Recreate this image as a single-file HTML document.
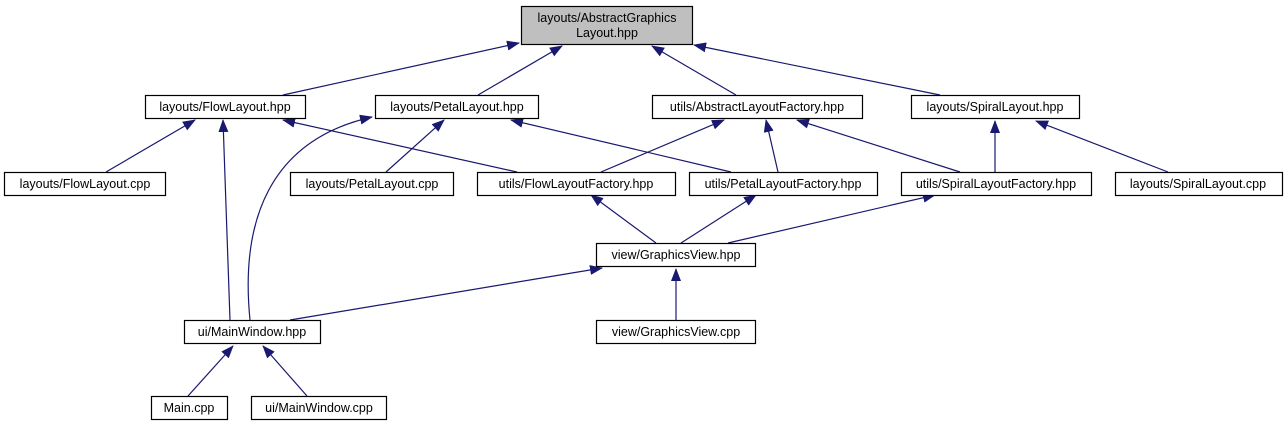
<!DOCTYPE html>
<html><head><meta charset="utf-8"><style>
html,body{margin:0;padding:0;background:#fff;}
svg{display:block;}
text{font-family:"Liberation Sans",sans-serif;font-size:12.5px;fill:#000;}
</style></head><body>
<svg width="1287" height="425" viewBox="0 0 1287 425" xmlns="http://www.w3.org/2000/svg">
<defs><marker id="a" markerWidth="13" markerHeight="10" refX="12" refY="5" orient="auto" markerUnits="userSpaceOnUse"><path d="M0,0 L13,5 L0,10 z" fill="#191970"/></marker></defs>
<g stroke="#191970" stroke-width="1.2" fill="none" marker-end="url(#a)">
<line x1="283" y1="95" x2="519" y2="43"/>
<line x1="478" y1="95" x2="562" y2="46"/>
<line x1="736" y1="95" x2="652" y2="46"/>
<line x1="940" y1="95" x2="694" y2="45"/>
<line x1="106" y1="172" x2="195" y2="120"/>
<line x1="230" y1="320" x2="223" y2="120"/>
<line x1="517" y1="172" x2="283" y2="120"/>
<path d="M250,320 C240,220 270,140 372,117"/>
<line x1="386" y1="172" x2="444" y2="120"/>
<line x1="731" y1="172" x2="511" y2="120"/>
<line x1="601" y1="172" x2="724" y2="120"/>
<line x1="778" y1="172" x2="766" y2="120"/>
<line x1="960" y1="172" x2="797" y2="120"/>
<line x1="995" y1="172" x2="995" y2="121"/>
<line x1="1168" y1="172" x2="1036" y2="121"/>
<line x1="656" y1="243" x2="591" y2="195"/>
<line x1="681" y1="243" x2="756" y2="195"/>
<line x1="728" y1="243" x2="935" y2="195"/>
<line x1="290" y1="320" x2="602" y2="268"/>
<line x1="676" y1="320" x2="676" y2="269"/>
<line x1="188" y1="396" x2="233" y2="346"/>
<line x1="307" y1="396" x2="263" y2="346"/>
</g>
<g stroke="#000" stroke-width="1.2" fill="#fff">
<rect x="521.5" y="6.5" width="171" height="38" fill="#bfbfbf"/>
<rect x="145.5" y="95.5" width="160" height="23"/>
<rect x="375.5" y="95.5" width="163" height="23"/>
<rect x="652.5" y="95.5" width="210" height="23"/>
<rect x="911.5" y="95.5" width="168" height="23"/>
<rect x="4.5" y="172.5" width="161" height="23"/>
<rect x="290.5" y="172.5" width="163" height="23"/>
<rect x="477.5" y="172.5" width="198" height="23"/>
<rect x="689.5" y="172.5" width="188" height="23"/>
<rect x="901.5" y="172.5" width="190" height="23"/>
<rect x="1115.5" y="172.5" width="167" height="23"/>
<rect x="596.5" y="243.5" width="159" height="23"/>
<rect x="184.5" y="320.5" width="136" height="23"/>
<rect x="596.5" y="320.5" width="159" height="23"/>
<rect x="151.5" y="396.5" width="76" height="23"/>
<rect x="251.5" y="396.5" width="135" height="23"/>
</g>
<g text-anchor="middle">
<text x="607" y="22">layouts/AbstractGraphics</text>
<text x="607" y="37">Layout.hpp</text>
<text x="225" y="111">layouts/FlowLayout.hpp</text>
<text x="457" y="111">layouts/PetalLayout.hpp</text>
<text x="757" y="111">utils/AbstractLayoutFactory.hpp</text>
<text x="995" y="111">layouts/SpiralLayout.hpp</text>
<text x="85" y="188">layouts/FlowLayout.cpp</text>
<text x="372" y="188">layouts/PetalLayout.cpp</text>
<text x="576" y="188">utils/FlowLayoutFactory.hpp</text>
<text x="783" y="188">utils/PetalLayoutFactory.hpp</text>
<text x="996" y="188">utils/SpiralLayoutFactory.hpp</text>
<text x="1198" y="188">layouts/SpiralLayout.cpp</text>
<text x="676" y="259">view/GraphicsView.hpp</text>
<text x="252" y="336">ui/MainWindow.hpp</text>
<text x="676" y="336">view/GraphicsView.cpp</text>
<text x="189" y="412">Main.cpp</text>
<text x="319" y="412">ui/MainWindow.cpp</text>
</g>
</svg>
</body></html>
